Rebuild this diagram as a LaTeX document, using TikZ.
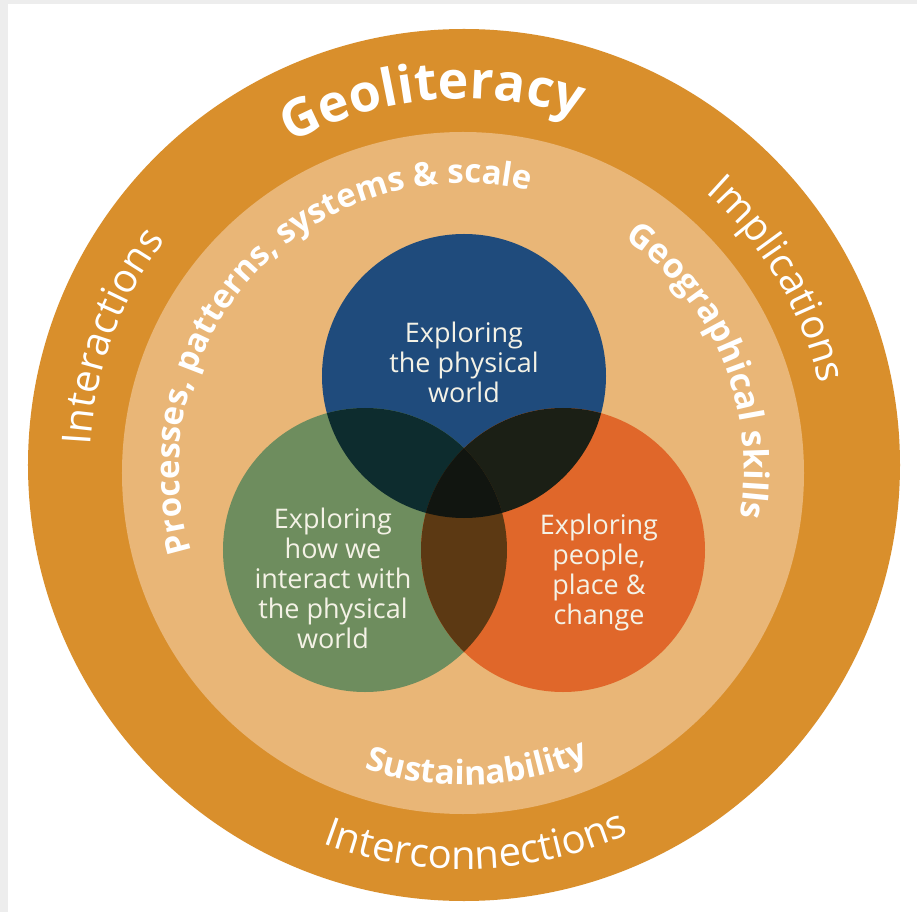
\documentclass[tikz,border=0pt]{standalone}
\usepackage{fontspec}
\setmainfont{Open Sans}
\usetikzlibrary{decorations.text}
\definecolor{bggray}{HTML}{EDEDED}
\definecolor{ringout}{HTML}{D98F2C}
\definecolor{ringin}{HTML}{E9B677}
\definecolor{cblue}{HTML}{1F4B7C}
\definecolor{cgreen}{HTML}{6E8D5E}
\definecolor{corange}{HTML}{E0672A}
\definecolor{ovbg}{HTML}{0D2C2E}
\definecolor{ovbo}{HTML}{1B1F15}
\definecolor{ovgo}{HTML}{5C3913}
\definecolor{ovall}{HTML}{111510}
\definecolor{ctxt}{HTML}{F4F2E6}
\begin{document}
\begin{tikzpicture}[x=1pt,y=1pt,
  ctext/.style={text=ctxt, align=center, font=\fontsize{27}{30}\selectfont},
  arctext/.style={decorate, decoration={text along path, text align=center, text={#1}}}
]
\useasboundingbox (-464,-447) rectangle (453,465);
\fill[bggray] (-464,-447) rectangle (453,465);
\fill[white] (-456,-447) rectangle (453,461);
% rings
\fill[ringout] (0,0) circle[radius=436];
\fill[ringin] (-1,-8) circle[radius=341];
% venn circles
\def\cB{(0,89) circle[radius=142]}
\def\cG{(-99,-85) circle[radius=142]}
\def\cO{(99,-85) circle[radius=142]}
\fill[cblue] \cB;
\fill[cgreen] \cG;
\fill[corange] \cO;
\begin{scope}\clip \cB; \fill[ovbg] \cG; \end{scope}
\begin{scope}\clip \cB; \fill[ovbo] \cO; \end{scope}
\begin{scope}\clip \cG; \fill[ovgo] \cO; \end{scope}
\begin{scope}\clip \cB; \clip \cG; \fill[ovall] \cO; \end{scope}
% circle labels
\node[ctext] (tblue) at (0,103) {Exploring\\the physical\\world};
\node[ctext] (tgreen) at (-131,-113) {Exploring\\how we\\interact with\\the physical\\world};
\node[ctext] (torange) at (135,-107) {Exploring\\people,\\place {\&}\\change};
% outer ring texts
\path[arctext={|\color{white}\fontsize{52}{60}\selectfont\bfseries|Geoliteracy}]
  (165:366) arc[start angle=165, end angle=25, radius=366];
\path[arctext={|\color{white}\fontsize{40}{48}\selectfont|Interactions}]
  (230:374) arc[start angle=230, end angle=90, radius=374];
\path[arctext={|\color{white}\fontsize{40}{48}\selectfont|Implications}]
  (100.6:364) arc[start angle=100.6, end angle=-39.4, radius=364];
\path[arctext={|\color{white}\fontsize{40}{48}\selectfont|Interconnections}]
  (201.8:404) arc[start angle=201.8, end angle=341.8, radius=404];
% inner ring texts
\begin{scope}[shift={(0,-3)}]
\path[arctext={|\color{white}\fontsize{33}{38}\selectfont\bfseries|Processes, patterns, systems {\&} scale}]
  (221.8:285) arc[start angle=221.8, end angle=51.8, radius=285];
\path[arctext={|\color{white}\fontsize{34}{40}\selectfont\bfseries|Geographical skills}]
  (97.4:280) arc[start angle=97.4, end angle=-52.6, radius=280];
\path[arctext={|\color{white}\fontsize{33.5}{40}\selectfont\bfseries|Sustainability}]
  (202.4:317) arc[start angle=202.4, end angle=342.4, radius=317];
\end{scope}
\end{tikzpicture}
\end{document}
